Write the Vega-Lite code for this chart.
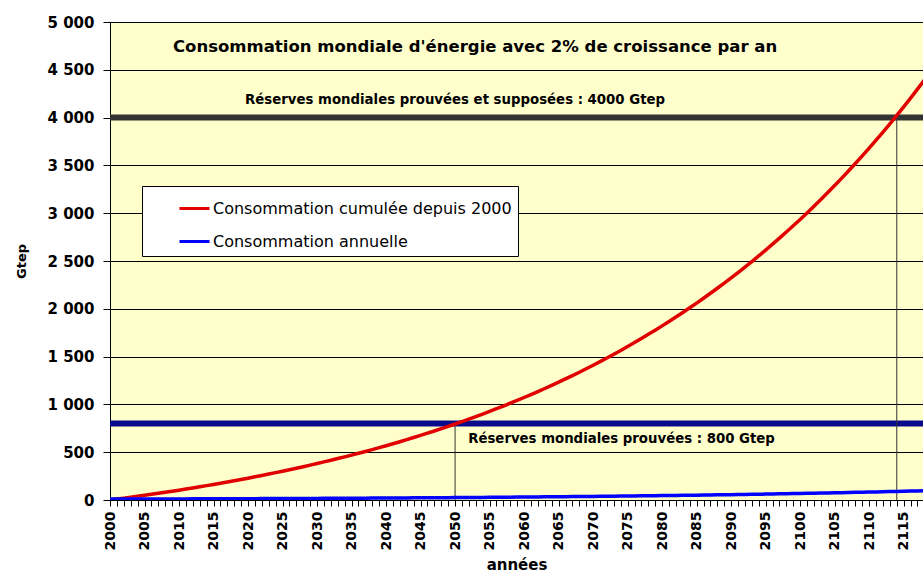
{
  "$schema": "https://vega.github.io/schema/vega-lite/v6.json",
  "width": 813,
  "height": 478,
  "autosize": "none",
  "padding": {"left": 110, "top": 22, "right": 0, "bottom": 77},
  "background": "white",
  "config": {
    "view": {"fill": "#FFFFCC", "stroke": "#888888", "strokeWidth": 1},
    "font": "DejaVu Sans"
  },
  "resolve": {"axis": {"x": "independent", "y": "independent"}},
  "datasets": {
    "conso": [
    {"annee":2000,"cumul":0,"annuel":9.4},{"annee":2001,"cumul":9.4,"annuel":9.6},{"annee":2002,"cumul":19.0,"annuel":9.8},{"annee":2003,"cumul":28.8,"annuel":10.0},{"annee":2004,"cumul":38.7,"annuel":10.2},
    {"annee":2005,"cumul":48.9,"annuel":10.4},{"annee":2006,"cumul":59.3,"annuel":10.6},{"annee":2007,"cumul":69.9,"annuel":10.8},{"annee":2008,"cumul":80.7,"annuel":11.0},{"annee":2009,"cumul":91.7,"annuel":11.2},
    {"annee":2010,"cumul":102.9,"annuel":11.5},{"annee":2011,"cumul":114.4,"annuel":11.7},{"annee":2012,"cumul":126.1,"annuel":11.9},{"annee":2013,"cumul":138.0,"annuel":12.2},{"annee":2014,"cumul":150.2,"annuel":12.4},
    {"annee":2015,"cumul":162.6,"annuel":12.7},{"annee":2016,"cumul":175.2,"annuel":12.9},{"annee":2017,"cumul":188.1,"annuel":13.2},{"annee":2018,"cumul":201.3,"annuel":13.4},{"annee":2019,"cumul":214.7,"annuel":13.7},
    {"annee":2020,"cumul":228.4,"annuel":14.0},{"annee":2021,"cumul":242.4,"annuel":14.2},{"annee":2022,"cumul":256.6,"annuel":14.5},{"annee":2023,"cumul":271.1,"annuel":14.8},{"annee":2024,"cumul":286.0,"annuel":15.1},
    {"annee":2025,"cumul":301.1,"annuel":15.4},{"annee":2026,"cumul":316.5,"annuel":15.7},{"annee":2027,"cumul":332.2,"annuel":16.0},{"annee":2028,"cumul":348.3,"annuel":16.4},{"annee":2029,"cumul":364.6,"annuel":16.7},
    {"annee":2030,"cumul":381.3,"annuel":17.0},{"annee":2031,"cumul":398.4,"annuel":17.4},{"annee":2032,"cumul":415.7,"annuel":17.7},{"annee":2033,"cumul":433.5,"annuel":18.1},{"annee":2034,"cumul":451.5,"annuel":18.4},
    {"annee":2035,"cumul":469.9,"annuel":18.8},{"annee":2036,"cumul":488.7,"annuel":19.2},{"annee":2037,"cumul":507.9,"annuel":19.6},{"annee":2038,"cumul":527.5,"annuel":19.9},{"annee":2039,"cumul":547.4,"annuel":20.3},
    {"annee":2040,"cumul":567.8,"annuel":20.8},{"annee":2041,"cumul":588.5,"annuel":21.2},{"annee":2042,"cumul":609.7,"annuel":21.6},{"annee":2043,"cumul":631.3,"annuel":22.0},{"annee":2044,"cumul":653.3,"annuel":22.5},
    {"annee":2045,"cumul":675.8,"annuel":22.9},{"annee":2046,"cumul":698.7,"annuel":23.4},{"annee":2047,"cumul":722.1,"annuel":23.8},{"annee":2048,"cumul":745.9,"annuel":24.3},{"annee":2049,"cumul":770.2,"annuel":24.8},
    {"annee":2050,"cumul":795.0,"annuel":25.3},{"annee":2051,"cumul":820.3,"annuel":25.8},{"annee":2052,"cumul":846.2,"annuel":26.3},{"annee":2053,"cumul":872.5,"annuel":26.8},{"annee":2054,"cumul":899.3,"annuel":27.4},
    {"annee":2055,"cumul":926.7,"annuel":27.9},{"annee":2056,"cumul":954.6,"annuel":28.5},{"annee":2057,"cumul":983.1,"annuel":29.1},{"annee":2058,"cumul":1012.2,"annuel":29.6},{"annee":2059,"cumul":1041.9,"annuel":30.2},
    {"annee":2060,"cumul":1072.1,"annuel":30.8},{"annee":2061,"cumul":1103.0,"annuel":31.5},{"annee":2062,"cumul":1134.4,"annuel":32.1},{"annee":2063,"cumul":1166.5,"annuel":32.7},{"annee":2064,"cumul":1199.2,"annuel":33.4},
    {"annee":2065,"cumul":1232.6,"annuel":34.1},{"annee":2066,"cumul":1266.6,"annuel":34.7},{"annee":2067,"cumul":1301.4,"annuel":35.4},{"annee":2068,"cumul":1336.8,"annuel":36.1},{"annee":2069,"cumul":1372.9,"annuel":36.9},
    {"annee":2070,"cumul":1409.8,"annuel":37.6},{"annee":2071,"cumul":1447.4,"annuel":38.3},{"annee":2072,"cumul":1485.7,"annuel":39.1},{"annee":2073,"cumul":1524.8,"annuel":39.9},{"annee":2074,"cumul":1564.7,"annuel":40.7},
    {"annee":2075,"cumul":1605.4,"annuel":41.5},{"annee":2076,"cumul":1646.9,"annuel":42.3},{"annee":2077,"cumul":1689.3,"annuel":43.2},{"annee":2078,"cumul":1732.5,"annuel":44.0},{"annee":2079,"cumul":1776.5,"annuel":44.9},
    {"annee":2080,"cumul":1821.4,"annuel":45.8},{"annee":2081,"cumul":1867.3,"annuel":46.7},{"annee":2082,"cumul":1914.0,"annuel":47.7},{"annee":2083,"cumul":1961.7,"annuel":48.6},{"annee":2084,"cumul":2010.3,"annuel":49.6},
    {"annee":2085,"cumul":2059.8,"annuel":50.6},{"annee":2086,"cumul":2110.5,"annuel":51.6},{"annee":2087,"cumul":2162.2,"annuel":52.6},{"annee":2088,"cumul":2214.8,"annuel":53.7},{"annee":2089,"cumul":2268.5,"annuel":54.8},
    {"annee":2090,"cumul":2323.3,"annuel":55.9},{"annee":2091,"cumul":2379.1,"annuel":57.0},{"annee":2092,"cumul":2436.1,"annuel":58.1},{"annee":2093,"cumul":2494.2,"annuel":59.3},{"annee":2094,"cumul":2553.5,"annuel":60.5},
    {"annee":2095,"cumul":2614.0,"annuel":61.7},{"annee":2096,"cumul":2675.7,"annuel":62.9},{"annee":2097,"cumul":2738.6,"annuel":64.2},{"annee":2098,"cumul":2802.8,"annuel":65.5},{"annee":2099,"cumul":2868.2,"annuel":66.8},
    {"annee":2100,"cumul":2935.0,"annuel":68.1},{"annee":2101,"cumul":3003.1,"annuel":69.5},{"annee":2102,"cumul":3072.5,"annuel":70.9},{"annee":2103,"cumul":3143.4,"annuel":72.3},{"annee":2104,"cumul":3215.7,"annuel":73.7},
    {"annee":2105,"cumul":3289.4,"annuel":75.2},{"annee":2106,"cumul":3364.6,"annuel":76.7},{"annee":2107,"cumul":3441.3,"annuel":78.2},{"annee":2108,"cumul":3519.5,"annuel":79.8},{"annee":2109,"cumul":3599.3,"annuel":81.4},
    {"annee":2110,"cumul":3680.7,"annuel":83.0},{"annee":2111,"cumul":3763.7,"annuel":84.7},{"annee":2112,"cumul":3848.3,"annuel":86.4},{"annee":2113,"cumul":3934.7,"annuel":88.1},{"annee":2114,"cumul":4022.8,"annuel":89.9},
    {"annee":2115,"cumul":4112.7,"annuel":91.7},{"annee":2116,"cumul":4204.3,"annuel":93.5},{"annee":2117,"cumul":4297.8,"annuel":95.4},{"annee":2118,"cumul":4393.2,"annuel":97.3}
    ],
    "one": [{}]
  },
  "layer": [
    {
      "data": {"name": "one"},
      "mark": {"type": "rule", "color": "#333333", "strokeWidth": 6},
      "encoding": {"y": {"datum": 4000, "type": "quantitative", "axis": null}}
    },
    {
      "data": {"name": "one"},
      "mark": {"type": "rule", "color": "#0a0a8c", "strokeWidth": 6},
      "encoding": {"y": {"datum": 800, "type": "quantitative", "axis": null}}
    },
    {
      "data": {"name": "one"},
      "mark": {"type": "rule", "color": "#333333", "strokeWidth": 1},
      "encoding": {"x": {"datum": 2050, "type": "quantitative", "axis": null}, "y": {"datum": 0, "type": "quantitative", "axis": null}, "y2": {"datum": 800}}
    },
    {
      "data": {"name": "one"},
      "mark": {"type": "rule", "color": "#333333", "strokeWidth": 1},
      "encoding": {"x": {"datum": 2114, "type": "quantitative", "axis": null}, "y": {"datum": 0, "type": "quantitative", "axis": null}, "y2": {"datum": 4000}}
    },
    {
      "data": {"name": "conso"},
      "transform": [
        {"fold": ["cumul", "annuel"], "as": ["serie", "valeur"]},
        {"lookup": "serie", "from": {"data": {"values": [
          {"serie": "cumul", "nom": "Consommation cumulée depuis 2000"},
          {"serie": "annuel", "nom": "Consommation annuelle"}
        ]}, "key": "serie", "fields": ["nom"]}}
      ],
      "mark": {"type": "line", "strokeWidth": 3.5, "clip": true},
      "encoding": {
        "x": {
          "field": "annee", "type": "quantitative",
          "scale": {"domain": [2000, 2117.8], "nice": false, "zero": false},
          "axis": {
            "orient": "bottom",
            "title": "années",
            "values": [2000,2001,2002,2003,2004,2005,2006,2007,2008,2009,2010,2011,2012,2013,2014,2015,2016,2017,2018,2019,2020,2021,2022,2023,2024,2025,2026,2027,2028,2029,2030,2031,2032,2033,2034,2035,2036,2037,2038,2039,2040,2041,2042,2043,2044,2045,2046,2047,2048,2049,2050,2051,2052,2053,2054,2055,2056,2057,2058,2059,2060,2061,2062,2063,2064,2065,2066,2067,2068,2069,2070,2071,2072,2073,2074,2075,2076,2077,2078,2079,2080,2081,2082,2083,2084,2085,2086,2087,2088,2089,2090,2091,2092,2093,2094,2095,2096,2097,2098,2099,2100,2101,2102,2103,2104,2105,2106,2107,2108,2109,2110,2111,2112,2113,2114,2115,2116,2117],
            "labelExpr": "datum.value % 5 == 0 ? '' + datum.value : ''",
            "labelAngle": 270,
            "labelAlign": "right",
            "labelBaseline": "middle",
            "labelFontSize": 14,
            "labelFontWeight": "bold",
            "labelColor": "black",
            "labelOverlap": false,
            "labelFlush": false,
            "labelPadding": 5,
            "tickSize": 6,
            "tickColor": "black",
            "domainColor": "black",
            "grid": false,
            "titleFontSize": 15,
            "titleFontWeight": "bold",
            "titleColor": "black",
            "titlePadding": 8
          }
        },
        "y": {
          "field": "valeur", "type": "quantitative",
          "scale": {"domain": [0, 5000], "nice": false},
          "axis": {
            "orient": "left",
            "title": "Gtep",
            "values": [0,500,1000,1500,2000,2500,3000,3500,4000,4500,5000],
            "labelExpr": "replace(format(datum.value, ','), ',', ' ')",
            "labelFontSize": 15,
            "labelFontWeight": "bold",
            "labelColor": "black",
            "labelPadding": 9,
            "tickSize": 7,
            "tickColor": "black",
            "domainColor": "black",
            "grid": true,
            "gridColor": "black",
            "gridOpacity": 1,
            "gridWidth": 1,
            "titleFontSize": 13,
            "titleFontWeight": "bold",
            "titleColor": "black",
            "titlePadding": 19
          }
        },
        "color": {
          "field": "nom", "type": "nominal",
          "scale": {"domain": ["Consommation cumulée depuis 2000", "Consommation annuelle"], "range": ["#e00000", "#0000ff"]},
          "legend": {
            "title": null,
            "orient": "none",
            "legendX": 32,
            "legendY": 164,
            "fillColor": "white",
            "strokeColor": "black",
            "padding": 6,
            "symbolOffset": 30,
            "symbolType": "stroke",
            "symbolStrokeWidth": 3,
            "symbolSize": 900,
            "labelFontSize": 16,
            "labelColor": "black",
            "labelOffset": 2,
            "labelLimit": 500,
            "rowPadding": 8
          }
        }
      }
    },
    {
      "data": {"name": "one"},
      "mark": {"type": "text", "fontSize": 16.5, "fontWeight": "bold", "align": "center", "baseline": "middle", "color": "black"},
      "encoding": {"x": {"datum": 2052.9, "type": "quantitative", "axis": null}, "y": {"datum": 4740, "type": "quantitative", "axis": null}, "text": {"value": "Consommation mondiale d'énergie avec 2% de croissance par an"}}
    },
    {
      "data": {"name": "one"},
      "mark": {"type": "text", "fontSize": 13.3, "fontWeight": "bold", "align": "center", "baseline": "middle", "color": "black"},
      "encoding": {"x": {"datum": 2050, "type": "quantitative", "axis": null}, "y": {"datum": 4184, "type": "quantitative", "axis": null}, "text": {"value": "Réserves mondiales prouvées et supposées : 4000 Gtep"}}
    },
    {
      "data": {"name": "one"},
      "mark": {"type": "text", "fontSize": 13.3, "fontWeight": "bold", "align": "left", "baseline": "middle", "color": "black"},
      "encoding": {"x": {"datum": 2051.9, "type": "quantitative", "axis": null}, "y": {"datum": 638, "type": "quantitative", "axis": null}, "text": {"value": "Réserves mondiales prouvées : 800 Gtep"}}
    }
  ]
}
